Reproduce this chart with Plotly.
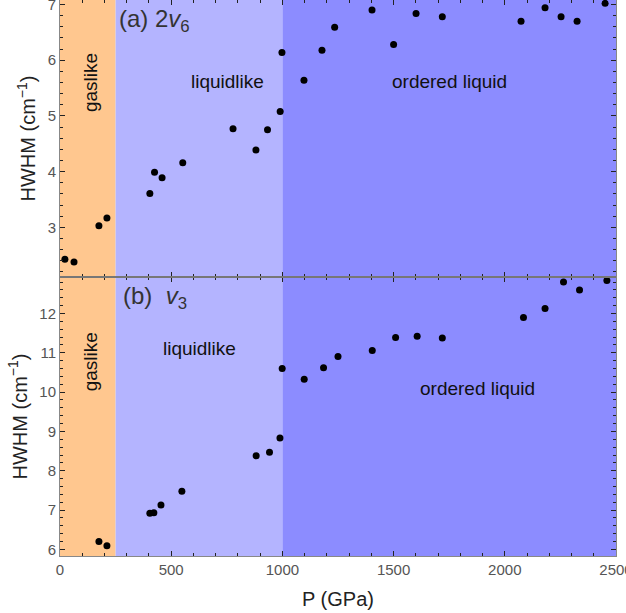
import plotly.graph_objects as go

# ---- data ----
p_a = [22, 63, 175, 211, 404, 425, 459, 552, 778, 881, 933, 990, 998, 1097,
       1178, 1235, 1403, 1500, 1601, 1719, 2073, 2181, 2253, 2325, 2451]
hwhm_a = [2.43, 2.38, 3.03, 3.17, 3.61, 3.99, 3.89, 4.16, 4.77, 4.39, 4.75, 5.08, 6.14, 5.64,
          6.18, 6.59, 6.90, 6.28, 6.84, 6.78, 6.70, 6.94, 6.78, 6.70, 7.02]

p_b = [175, 211, 404, 422, 454, 548, 882, 942, 989, 999, 1098,
       1185, 1250, 1404, 1509, 1606, 1719, 2084, 2181, 2264, 2336, 2459]
hwhm_b = [6.20, 6.09, 6.92, 6.93, 7.13, 7.48, 8.38, 8.47, 8.83, 10.60, 10.33,
          10.62, 10.91, 11.06, 11.39, 11.42, 11.38, 11.90, 12.13, 12.80, 12.60, 12.84]

region_bounds = [0, 250, 1000, 2500]
region_names = ["gaslike", "liquidlike", "ordered liquid"]
region_colors = ["rgb(255,199,143)", "rgb(180,180,255)", "rgb(140,140,255)"]

x_ticks = [0, 500, 1000, 1500, 2000, 2500]
ya_ticks = [3, 4, 5, 6, 7]
yb_ticks = [6, 7, 8, 9, 10, 11, 12]

FONT = "Liberation Sans, Arial, sans-serif"

fig = go.Figure()
fig.add_trace(go.Scatter(x=p_a, y=hwhm_a, mode="markers", xaxis="x2", yaxis="y2",
                         marker=dict(color="black", size=7), showlegend=False))
fig.add_trace(go.Scatter(x=p_b, y=hwhm_b, mode="markers", xaxis="x", yaxis="y",
                         marker=dict(color="black", size=7), showlegend=False))

shapes = []
for i in range(3):
    for yref in ["y domain", "y2 domain"]:
        xr = "x" if yref == "y domain" else "x2"
        shapes.append(dict(type="rect", xref=xr, yref=yref,
                           x0=region_bounds[i], x1=region_bounds[i + 1], y0=0, y1=1,
                           fillcolor=region_colors[i], line=dict(width=0), layer="below"))
shapes.append(dict(type="line", xref="paper", yref="paper", x0=0, x1=1, y0=0.5018, y1=0.5018,
                   line=dict(color="#777777", width=2)))
fig.update_layout(shapes=shapes)

axis_common = dict(showgrid=False, zeroline=False, showline=True, linecolor="#888888",
                   linewidth=1, ticks="inside", ticklen=5, tickcolor="#222222",
                   mirror="ticks", automargin=False, ticklabeloverflow="allow",
                   tickfont=dict(family=FONT, size=15, color="#555555"))

TITLE_FONT = dict(family=FONT, size=20, color="#222222")

fig.update_layout(
    width=626, height=613,
    margin=dict(l=60, r=10, t=0, b=57),
    paper_bgcolor="white", plot_bgcolor="white",
    font=dict(family=FONT),
    xaxis=dict(domain=[0, 1], range=[0, 2500], tickvals=x_ticks, anchor="y",
               minor=dict(dtick=100, ticks="inside", ticklen=3, tickcolor="#222222"),
               title=dict(text="P (GPa)", font=TITLE_FONT, standoff=14),
               **axis_common),
    xaxis2=dict(domain=[0, 1], range=[0, 2500], tickvals=x_ticks, anchor="y2", matches="x",
                showticklabels=False,
                minor=dict(dtick=100, ticks="inside", ticklen=3, tickcolor="#222222"),
                **axis_common),
    yaxis=dict(domain=[0, 0.5018], range=[5.83, 12.93], tickvals=yb_ticks, anchor="x",
               minor=dict(dtick=0.2, ticks="inside", ticklen=3, tickcolor="#222222"),
               title=dict(text="HWHM (cm<sup>−1</sup>)", font=TITLE_FONT, standoff=6),
               **axis_common),
    yaxis2=dict(domain=[0.5018, 1], range=[2.11, 7.08], tickvals=ya_ticks, anchor="x2",
                minor=dict(dtick=0.2, ticks="inside", ticklen=3, tickcolor="#222222"),
                title=dict(text="HWHM (cm<sup>−1</sup>)", font=TITLE_FONT, standoff=6),
                **axis_common),
)

lab_font = dict(family=FONT, size=19, color="#111111")
ann = [
    dict(x=135, y=5.59, xref="x2", yref="y2", text=region_names[0], textangle=-90, showarrow=False, font=lab_font),
    dict(x=751, y=5.61, xref="x2", yref="y2", text=region_names[1], showarrow=False, font=lab_font),
    dict(x=1750, y=5.61, xref="x2", yref="y2", text=region_names[2], showarrow=False, font=lab_font),
    dict(x=135, y=10.76, xref="x", yref="y", text=region_names[0], textangle=-90, showarrow=False, font=lab_font),
    dict(x=625, y=11.12, xref="x", yref="y", text=region_names[1], showarrow=False, font=lab_font),
    dict(x=1876, y=10.08, xref="x", yref="y", text=region_names[2], showarrow=False, font=lab_font),
    dict(x=255, y=6.72, xref="x2", yref="y2", xanchor="left", text="(a) 2<i>v</i><sub>6</sub>",
         showarrow=False, font=dict(family=FONT, size=24, color="#333333")),
    dict(x=275, y=12.42, xref="x", yref="y", xanchor="left", text="(b)  <i>v</i><sub>3</sub>",
         showarrow=False, font=dict(family=FONT, size=24, color="#333333")),
]
fig.update_layout(annotations=ann)

fig.write_html("out.html", config={"displayModeBar": False},
               post_script="document.body.style.margin='0';document.body.style.padding='0';")
